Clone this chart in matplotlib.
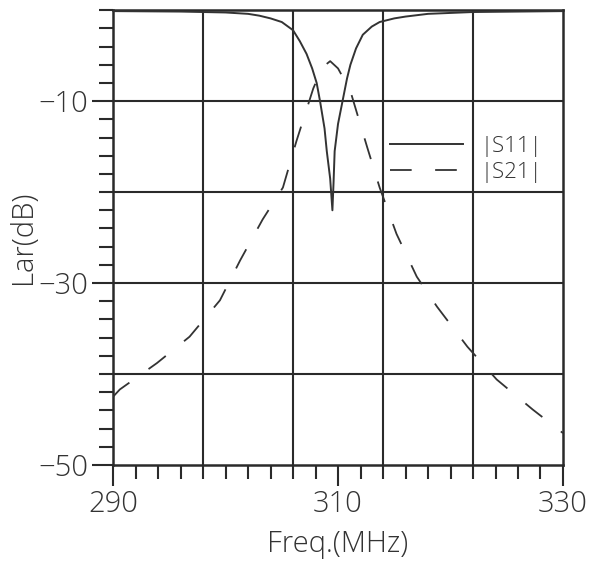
import matplotlib
matplotlib.use('Agg')
import matplotlib.pyplot as plt
from matplotlib.ticker import MultipleLocator, FixedLocator

# |S11| (MHz, dB)
freq_s11 = [290, 296, 300, 302, 303, 304, 305, 306, 306.6, 307.2, 307.7, 308.1,
            308.4, 308.8, 309.0, 309.3, 309.5, 309.6, 309.7, 310.0, 310.4, 310.8,
            311.1, 311.6, 312.2, 313.0, 313.7, 315.0, 316.0, 318.0, 322.0, 330.0]
s11_db = [-0.1, -0.15, -0.25, -0.4, -0.6, -0.9, -1.3, -2.2, -3.4, -4.8, -6.4, -8.0,
          -10.0, -13.0, -15.5, -18.5, -22.0, -19.0, -15.5, -12.5, -10.0, -7.5,
          -6.0, -4.2, -2.7, -1.8, -1.3, -0.9, -0.7, -0.4, -0.2, -0.1]

# |S21| (MHz, dB)
freq_s21 = [290, 290.6, 293.9, 296.8, 299.5, 301.3, 303.3, 305.1, 306.3, 307.8,
            308.6, 309.3, 310.0, 311.1, 312.6, 313.7, 315.2, 317.0, 318.8, 321.5,
            324.1, 327.3, 330]
s21_db = [-42.5, -41.7, -38.8, -35.9, -31.9, -27.5, -23.0, -19.5, -14.4, -8.6,
          -6.3, -5.6, -6.4, -8.9, -15.1, -19.5, -24.6, -29.3, -32.6, -37.0,
          -40.6, -43.9, -46.5]

x_labels = [290, 310, 330]
y_labels = [-50, -30, -10]
x_grid = [298, 306, 314, 322]
y_grid = [-40, -30, -20, -10]

plt.rcParams['font.family'] = ['Open Sans', 'DejaVu Sans']
plt.rcParams['font.weight'] = 'light'
plt.rcParams['axes.labelweight'] = 'light'

fig = plt.figure(figsize=(5.92, 5.67), dpi=100)
ax = fig.add_axes([0.191, 0.180, 0.760, 0.802])

for gx in x_grid:
    ax.axvline(gx, color='#2a2a2a', lw=1.5, zorder=1)
for gy in y_grid:
    ax.axhline(gy, color='#2a2a2a', lw=1.5, zorder=1)

ax.plot(freq_s11, s11_db, color='#333333', lw=1.4, label='|S11|', zorder=3)
ax.plot(freq_s21, s21_db, color='#333333', lw=1.3, dashes=(12, 13),
        label='|S21|', zorder=3)

ax.set_xlim(290, 330)
ax.set_ylim(-50, 0)

ax.xaxis.set_major_locator(FixedLocator(x_labels))
ax.xaxis.set_minor_locator(MultipleLocator(2))
ax.yaxis.set_major_locator(FixedLocator(y_labels))
ax.yaxis.set_minor_locator(MultipleLocator(2))

ax.tick_params(axis='both', which='major', direction='out', length=15, width=1.5,
               labelsize=21, color='#2a2a2a', labelcolor='#333333')
ax.tick_params(axis='both', which='minor', direction='out', length=10, width=1.5,
               color='#2a2a2a')
ax.tick_params(axis='x', which='major', pad=3)
ax.tick_params(axis='y', which='major', pad=3)

for s in ax.spines.values():
    s.set_linewidth(1.8)
    s.set_color('#2a2a2a')

ax.set_xlabel('Freq.(MHz)', fontsize=21, color='#333333', labelpad=7)
ax.set_ylabel('Lar(dB)', fontsize=21, color='#333333', labelpad=0)

ax.legend(loc='upper left', bbox_to_anchor=(0.615, 0.724), frameon=False,
          fontsize=16, handlelength=3.3, handletextpad=0.8, labelspacing=0.25,
          borderpad=0, borderaxespad=0, labelcolor='#333333')

plt.savefig('out.png', dpi=100, facecolor='white')
plt.close()
